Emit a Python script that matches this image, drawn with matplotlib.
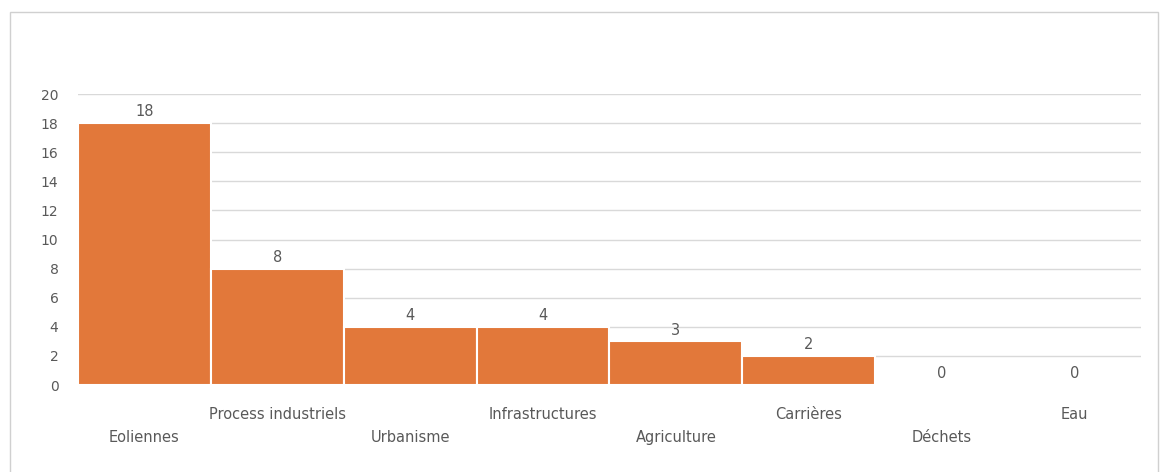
import matplotlib.pyplot as plt
from matplotlib.patches import Rectangle

categories = ['Eoliennes', 'Process industriels', 'Urbanisme', 'Infrastructures',
              'Agriculture', 'Carrières', 'Déchets', 'Eau']
values = [18, 8, 4, 4, 3, 2, 0, 0]

fig = plt.figure(figsize=(11.6, 4.72), dpi=100)
ax = fig.add_axes([0.0672, 0.1843, 0.9164, 0.6165])

# cadre gris autour du graphique
fig.patches.append(Rectangle((10 / 1160, -0.01), 1148 / 1160, 1 - 12 / 472 + 0.01,
                             transform=fig.transFigure, fill=False,
                             edgecolor='#D0D0D0', linewidth=1))

x = list(range(len(categories)))
ax.bar(x, values, width=1.0, color='#E2783A', edgecolor='white', linewidth=1.5, zorder=3)

for xi, v in zip(x, values):
    ax.text(xi, v + 0.25, str(v), ha='center', va='bottom', fontsize=10.5, color='#595959')

ax.set_xlim(-0.5, len(categories) - 0.5)
ax.set_ylim(0, 20)
ax.set_yticks(range(0, 21, 2))
ax.yaxis.grid(True, color='#D9D9D9', linewidth=1, zorder=0)
ax.set_axisbelow(True)
for s in ax.spines.values():
    s.set_visible(False)
ax.tick_params(axis='y', length=0, labelsize=10, labelcolor='#595959', pad=14)
ax.set_xticks([])

# étiquettes en quinconce
for xi, lab in zip(x, categories):
    off = -3.64 if xi % 2 == 0 else -2.06
    ax.text(xi, off, lab, ha='center', va='center', fontsize=10.5, color='#595959')

fig.savefig('out.png', dpi=100)
